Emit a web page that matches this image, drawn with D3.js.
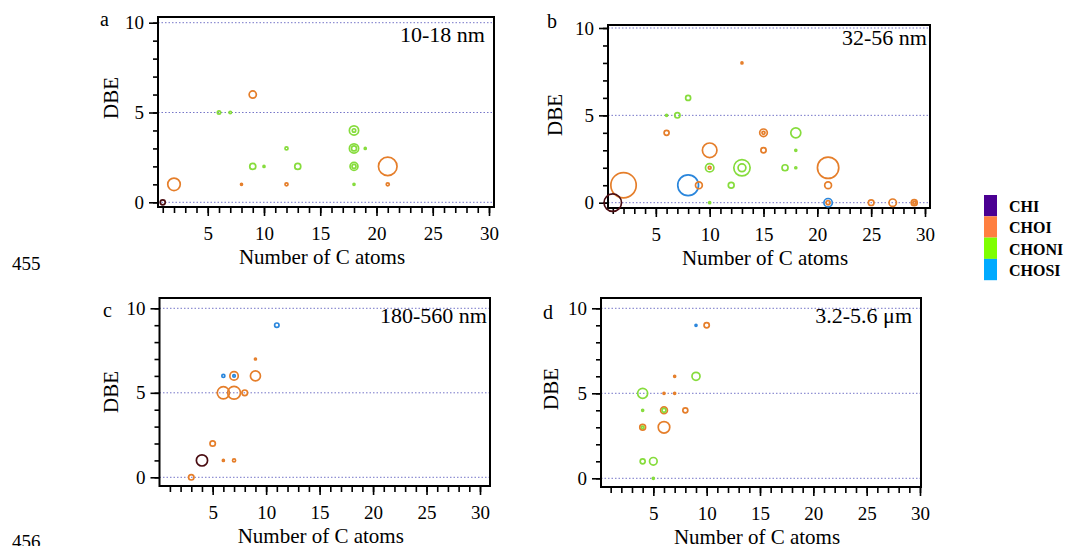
<!DOCTYPE html>
<html>
<head>
<title>DBE vs number of C atoms</title>
<script src="https://d3js.org/d3.v7.min.js"></script>
<style>
    body { margin: 0; background: #fff; }
    svg text { font-family: "Liberation Serif", "Times New Roman", serif; }
</style>
</head>
<body>
<div id="my_dataviz"></div>
<script>
// compound classes (legend order)
var classes = ["CHI", "CHOI", "CHONI", "CHOSI"]
var panelLetters = ["a", "b", "c", "d"]
var sizeRanges = ["10-18 nm", "32-56 nm", "180-560 nm", "3.2-5.6 μm"]
var xTickValues = [5, 10, 15, 20, 25, 30]
var yTickValues = [0, 5, 10]
var lineNumbers = ["455", "456"]

// [number of C atoms, DBE, relative intensity, class]
var pointsA = [
    [1, 0, 3.2, "CHI"],
    [2, 1, 20, "CHOI"], [8, 1, 0.5, "CHOI"], [12, 1, 1.2, "CHOI"], [21, 1, 1.2, "CHOI"],
    [21, 2, 44, "CHOI"], [9, 6, 6.6, "CHOI"],
    [6, 5, 1.4, "CHONI"], [7, 5, 0.8, "CHONI"], [9, 2, 4.6, "CHONI"], [10, 2, 0.5, "CHONI"],
    [13, 2, 4.6, "CHONI"], [12, 3, 1.2, "CHONI"], [18, 4, 11, "CHONI"], [18, 4, 1.5, "CHONI"],
    [18, 3, 11, "CHONI"], [18, 3, 3.2, "CHONI"], [18, 2, 8, "CHONI"], [18, 2, 2, "CHONI"],
    [18, 1, 0.5, "CHONI"], [19, 3, 0.5, "CHONI"]
]
var pointsB = [
    [1, 0, 39, "CHI"],
    [13, 8, 0.5, "CHOI"], [6, 4, 3.2, "CHOI"], [15, 4, 7.4, "CHOI"], [15, 4, 1.2, "CHOI"],
    [10, 3, 27, "CHOI"], [15, 3, 3.5, "CHOI"], [10, 2, 1, "CHOI"], [21, 2, 58, "CHOI"],
    [2, 1, 82, "CHOI"], [9, 1, 5.9, "CHOI"], [21, 1, 5.9, "CHOI"], [21, 0, 2, "CHOI"],
    [25, 0, 4, "CHOI"], [27, 0, 7, "CHOI"], [29, 0, 4.6, "CHOI"], [29, 0, 1, "CHOI"],
    [8, 6, 3.2, "CHONI"], [6, 5, 0.5, "CHONI"], [7, 5, 3.6, "CHONI"], [18, 4, 12.8, "CHONI"],
    [18, 3, 0.5, "CHONI"], [10, 2, 9, "CHONI"], [13, 2, 34, "CHONI"], [13, 2, 7.8, "CHONI"],
    [17, 2, 4.6, "CHONI"], [18, 2, 0.5, "CHONI"], [12, 1, 4.3, "CHONI"], [10, 0, 0.5, "CHONI"],
    [8, 1, 55, "CHOSI"], [21, 0, 9, "CHOSI"]
]
var pointsC = [
    [4, 1, 16, "CHI"],
    [9, 7, 0.5, "CHOI"], [7, 6, 9, "CHOI"], [9, 6, 12.8, "CHOI"], [6, 5, 19, "CHOI"],
    [7, 5, 21, "CHOI"], [8, 5, 4, "CHOI"], [5, 2, 3.7, "CHOI"], [6, 1, 0.5, "CHOI"],
    [7, 1, 1.2, "CHOI"], [3, 0, 3.7, "CHOI"],
    [11, 9, 2.5, "CHOSI"], [6, 6, 1.2, "CHOSI"], [7, 6, 0.8, "CHOSI"]
]
var pointsD = [
    [10, 9, 3.5, "CHOI"], [7, 6, 0.5, "CHOI"], [6, 5, 0.5, "CHOI"], [7, 5, 0.5, "CHOI"],
    [6, 4, 6, "CHOI"], [8, 4, 3.2, "CHOI"], [4, 3, 4.3, "CHOI"], [6, 3, 17, "CHOI"],
    [9, 6, 8.2, "CHONI"], [4, 5, 12.8, "CHONI"], [4, 4, 0.5, "CHONI"], [6, 4, 2, "CHONI"],
    [4, 3, 0.8, "CHONI"], [4, 1, 3.2, "CHONI"], [5, 1, 7.4, "CHONI"], [5, 0, 0.5, "CHONI"],
    [9, 9, 0.5, "CHOSI"]
]
var allPoints = [pointsA, pointsB, pointsC, pointsD]

// colours of the markers and of the legend swatches
var markerColor = { CHI: "#4a0d12", CHOI: "#e57e2a", CHONI: "#86dc3c", CHOSI: "#2a86dc" }
var legendColor = { CHI: "#4b0092", CHOI: "#ff7f40", CHONI: "#7fff00", CHOSI: "#00aaff" }

// pixel layout of the four panels
var panels = [
    { left: 158, right: 494, top: 17, bottom: 207, x0: 151.5, x30: 489, y0: 202.3, y10: 22.7,
      dbeX: 118, dbeY: 98, letX: 100, letY: 26, annX: 485, annY: 42 },
    { left: 608, right: 930, top: 25, bottom: 208, x0: 602, x30: 925, y0: 202.7, y10: 28,
      dbeX: 562, dbeY: 115, letX: 547, letY: 28, annX: 927, annY: 45 },
    { left: 159.5, right: 490, top: 298, bottom: 486, x0: 159.2, x30: 480, y0: 477.3, y10: 308.3,
      dbeX: 118, dbeY: 392, letX: 103, letY: 317, annX: 487, annY: 323 },
    { left: 601, right: 921, top: 298, bottom: 487, x0: 600, x30: 920, y0: 478.3, y10: 308.3,
      dbeX: 558, dbeY: 389, letX: 543, letY: 319, annX: 912, annY: 323 }
]

var svg = d3.select("#my_dataviz")
    .append("svg")
    .attr("width", 1067)
    .attr("height", 546)
    .attr("font-family", "Liberation Serif, serif")

var r = d3.scaleSqrt().domain([0, 100]).range([0, 14])

panels.forEach(function (p, i) {
    var g = svg.append("g")
    var x = d3.scaleLinear().domain([0, 30]).range([p.x0, p.x30])
    var y = d3.scaleLinear().domain([0, 10]).range([p.y0, p.y10])

    // dotted reference lines
    g.selectAll(".grid")
        .data(yTickValues)
        .enter().append("line")
        .attr("x1", p.left).attr("x2", p.right)
        .attr("y1", function (d) { return y(d) }).attr("y2", function (d) { return y(d) })
        .attr("stroke", "#7676c8")
        .attr("stroke-width", 1)
        .attr("stroke-dasharray", "1.5,2")

    // minor + major ticks on y
    g.append("g")
        .attr("transform", "translate(" + p.left + ",0)")
        .call(d3.axisLeft(y).tickValues(d3.range(0, 11)).tickSize(5).tickFormat(""))
        .call(function (a) { a.select(".domain").remove() })
    g.append("g")
        .attr("class", "ax")
        .attr("transform", "translate(" + p.left + ",0)")
        .call(d3.axisLeft(y).tickValues(yTickValues).tickSize(9).tickPadding(5))
        .call(function (a) { a.select(".domain").remove() })

    // minor + major ticks on x
    g.append("g")
        .attr("transform", "translate(0," + p.bottom + ")")
        .call(d3.axisBottom(x).tickValues(d3.range(1, 31)).tickSize(6).tickFormat(""))
        .call(function (a) { a.select(".domain").remove() })
    g.append("g")
        .attr("class", "ax")
        .attr("transform", "translate(0," + p.bottom + ")")
        .call(d3.axisBottom(x).tickValues(xTickValues).tickSize(9).tickPadding(11))
        .call(function (a) { a.select(".domain").remove() })

    g.selectAll(".tick line").attr("stroke-width", 1.6)
    g.selectAll(".ax").attr("font-family", "Liberation Serif, serif")
    g.selectAll(".ax text")
        .attr("font-size", 19)
        .attr("fill", "#000")

    // frame
    g.append("rect")
        .attr("x", p.left).attr("y", p.top)
        .attr("width", p.right - p.left).attr("height", p.bottom - p.top)
        .attr("fill", "none")
        .attr("stroke", "#000")
        .attr("stroke-width", 2)

    // markers, biggest first
    var pts = allPoints[i].slice().sort(function (a, b) { return b[2] - a[2] })
    g.selectAll(".dot")
        .data(pts)
        .enter().append("circle")
        .attr("cx", function (d) { return x(d[0]) })
        .attr("cy", function (d) { return y(d[1]) })
        .attr("r", function (d) { return r(d[2]) })
        .attr("fill", "none")
        .attr("stroke", function (d) { return markerColor[d[3]] })
        .attr("stroke-width", 1.7)

    // axis titles
    g.append("text")
        .attr("x", (p.left + p.right) / 2 - 4)
        .attr("y", p.bottom + 57)
        .attr("text-anchor", "middle")
        .attr("font-size", 21)
        .text("Number of C atoms")
    g.append("text")
        .attr("transform", "translate(" + p.dbeX + "," + p.dbeY + ") rotate(-90)")
        .attr("text-anchor", "middle")
        .attr("font-size", 21)
        .text("DBE")

    // panel letter and size range
    g.append("text")
        .attr("x", p.letX).attr("y", p.letY)
        .attr("font-size", 20)
        .text(panelLetters[i])
    g.append("text")
        .attr("x", p.annX).attr("y", p.annY)
        .attr("text-anchor", "end")
        .attr("font-size", 22)
        .text(sizeRanges[i])
})

// legend
var legend = svg.append("g")
legend.selectAll("rect")
    .data(classes)
    .enter().append("rect")
    .attr("x", 984)
    .attr("y", function (d, i) { return 195 + i * 21.3 })
    .attr("width", 13)
    .attr("height", 21.3)
    .attr("fill", function (d) { return legendColor[d] })
legend.selectAll("text")
    .data(classes)
    .enter().append("text")
    .attr("x", 1009)
    .attr("y", function (d, i) { return 212 + i * 21.3 })
    .attr("font-size", 16)
    .attr("font-weight", "bold")
    .text(function (d) { return d })

// manuscript line numbers
svg.selectAll(".ln")
    .data(lineNumbers)
    .enter().append("text")
    .attr("x", 12)
    .attr("y", function (d, i) { return i === 0 ? 270 : 548 })
    .attr("font-size", 19)
    .text(function (d) { return d })
</script>
</body>
</html>
